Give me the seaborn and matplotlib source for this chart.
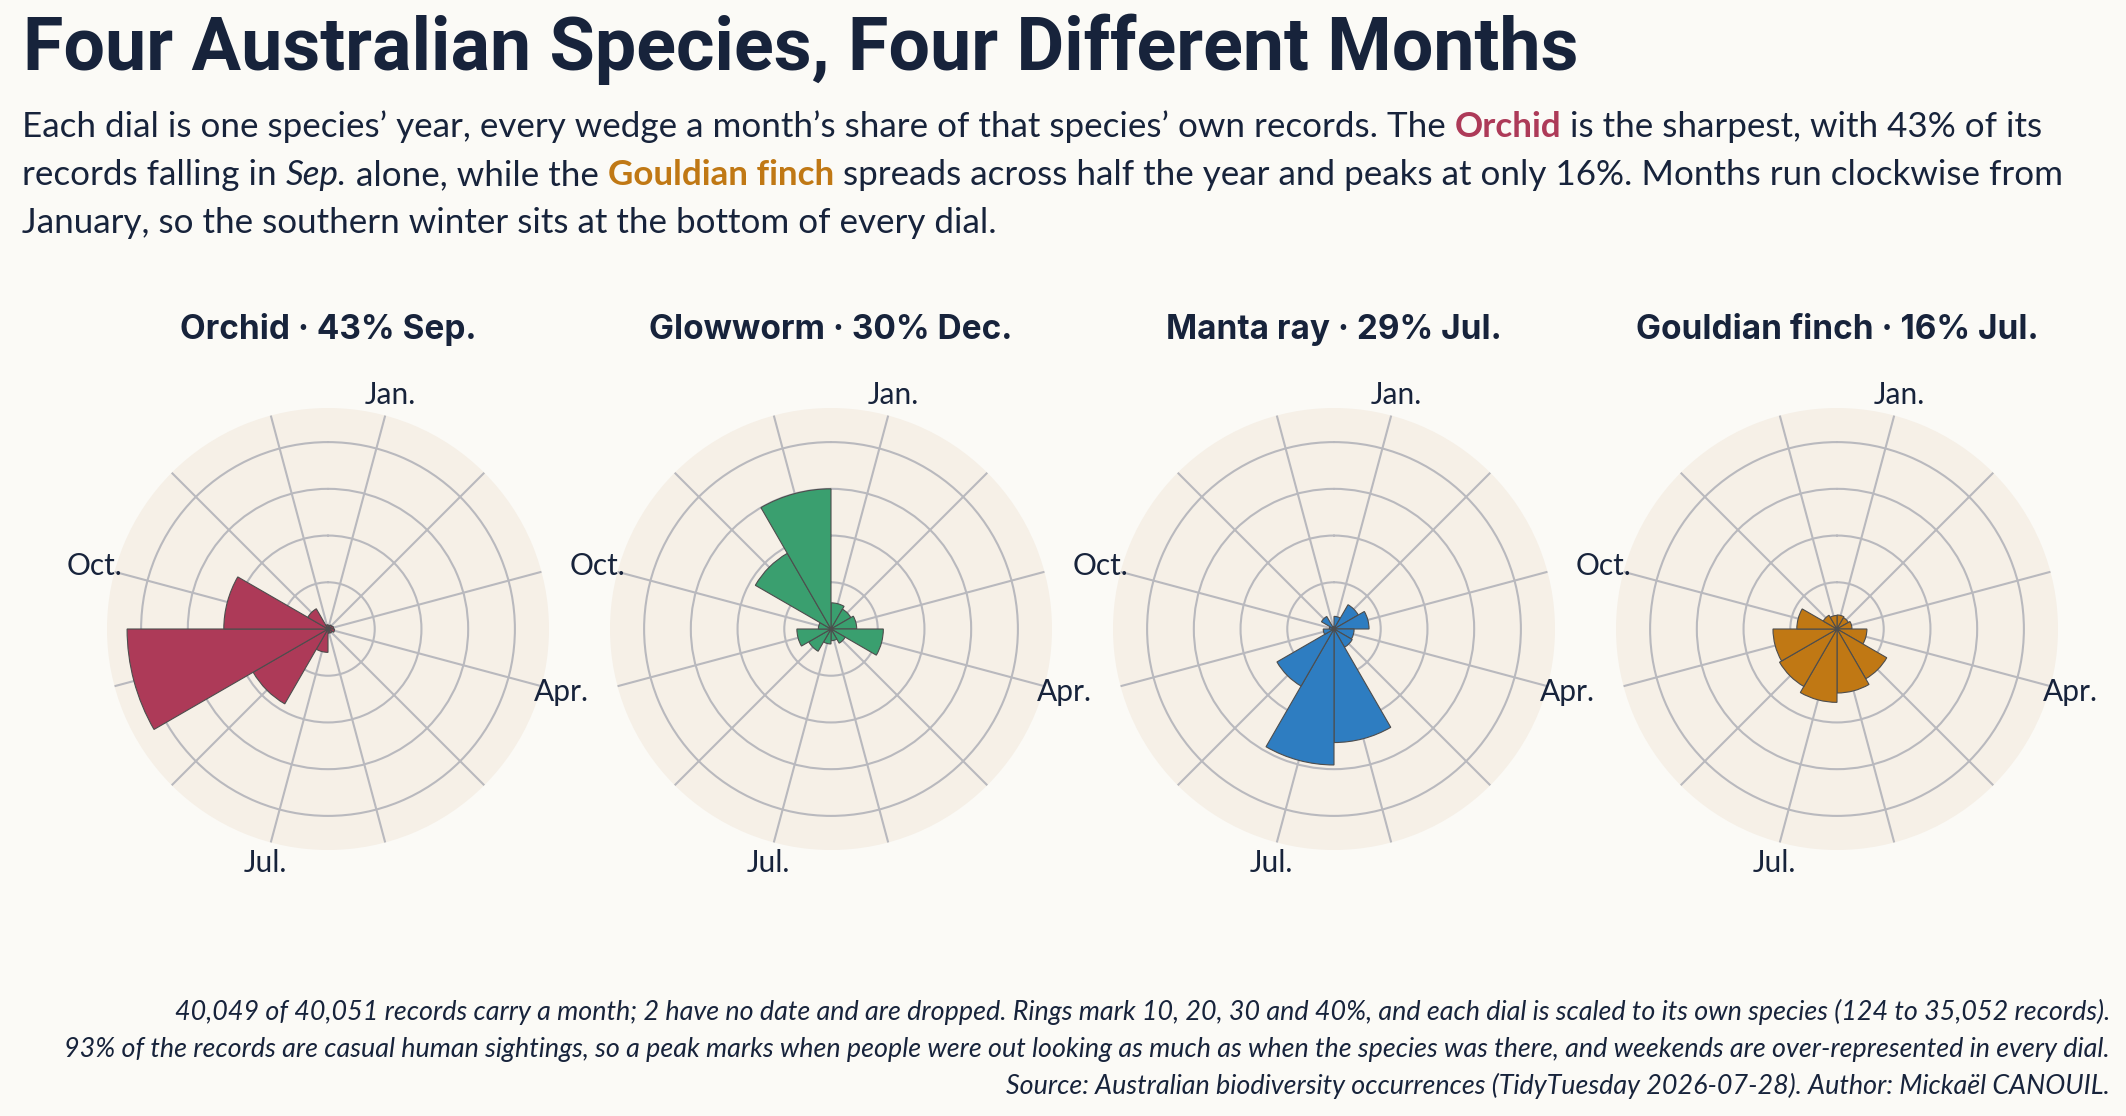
import numpy as np
import pandas as pd
import matplotlib
matplotlib.use("Agg")
import matplotlib.pyplot as plt
import seaborn as sns

# monthly share of each species' own records (%)
months = ["Jan.", "Feb.", "Mar.", "Apr.", "May", "Jun.",
          "Jul.", "Aug.", "Sep.", "Oct.", "Nov.", "Dec."]
species = ["Orchid", "Glowworm", "Manta ray", "Gouldian finch"]
orchid = [0.8, 1.0, 1.2, 1.4, 1.0, 0.9, 5.0, 18.5, 43.0, 22.3, 5.0, 0.9]
glowworm = [5.6, 4.9, 5.5, 11.2, 3.5, 2.5, 3.2, 5.5, 7.3, 2.7, 18.7, 30.0]
manta_ray = [2.7, 6.0, 7.5, 4.3, 4.5, 24.3, 29.1, 14.1, 2.3, 1.0, 3.1, 0.5]
gouldian_finch = [3.0, 2.8, 3.2, 6.4, 12.3, 13.7, 15.7, 14.2, 13.7, 8.6, 3.4, 2.9]
peak_pct = [43, 30, 29, 16]
peak_month = ["Sep.", "Dec.", "Jul.", "Jul."]
shown_months = ["Jan.", "Apr.", "Jul.", "Oct."]
rings = [10, 20, 30, 40]

df = pd.DataFrame({"month": months * 4,
                   "species": np.repeat(species, 12),
                   "share": orchid + glowworm + manta_ray + gouldian_finch})

palette = dict(zip(species, ["#AD3A58", "#3A9F6F", "#2E7DC1", "#C07814"]))
ink = "#17233B"
paper = "#FBFAF6"
dial_bg = "#F6F0E7"

sns.set_theme(style="white", rc={"figure.facecolor": paper, "savefig.facecolor": paper})
plt.rcParams["font.family"] = ["Lato", "DejaVu Sans"]

W, H = 2126, 1116
fig = plt.figure(figsize=(W / 100, H / 100), dpi=100)

# title
fig.text(23 / W, 1 - 70 / H, "Four Australian Species, Four Different Months",
         family=["Roboto", "DejaVu Sans"], fontweight="bold", fontsize=53,
         color=ink, ha="left", va="baseline")

renderer = fig.canvas.get_renderer()


def seg_width(txt, **kw):
    t = fig.text(0, 0, txt + "|", **kw)
    w1 = t.get_window_extent(renderer).width
    t.remove()
    t = fig.text(0, 0, "|", **kw)
    w2 = t.get_window_extent(renderer).width
    t.remove()
    return w1 - w2


sub_size = 25.2
base = dict(fontsize=sub_size, color=ink, family=["Lato", "DejaVu Sans"])
sub_lines = [
    [("Each dial is one species’ year, every wedge a month’s share of that species’ own records. The ", {}),
     ("Orchid", dict(fontweight="bold", color=palette["Orchid"])),
     (" is the sharpest, with 43% of its", {})],
    [("records falling in ", {}),
     ("Sep.", dict(fontstyle="italic")),
     (" alone, while the ", {}),
     ("Gouldian finch", dict(fontweight="bold", color=palette["Gouldian finch"])),
     (" spreads across half the year and peaks at only 16%. Months run clockwise from", {})],
    [("January, so the southern winter sits at the bottom of every dial.", {})],
]
for i, parts in enumerate(sub_lines):
    x = 22
    y = 1 - (137 + 48 * i) / H
    for txt, extra in parts:
        kw = {**base, **extra}
        fig.text(x / W, y, txt, ha="left", va="baseline", **kw)
        x += seg_width(txt, **kw)

# dials
radius = 221
centers = [328, 831, 1334, 1837]
cy = 629
theta = np.deg2rad(np.arange(12) * 30)
width = 2 * np.pi / 12
rmax = max(peak_pct) * 1.1

for k, name in enumerate(species):
    cx = centers[k]
    ax = fig.add_axes([(cx - radius) / W, 1 - (cy + radius) / H,
                       2 * radius / W, 2 * radius / H], projection="polar")
    ax.set_facecolor(dial_bg)
    ax.set_theta_zero_location("N")
    ax.set_theta_direction(-1)
    sub = df[df["species"] == name]
    ax.bar(theta, sub["share"].values, width=width, align="edge",
           color=palette[name], edgecolor="#4d4d4d", linewidth=0.8, zorder=3)
    ax.set_ylim(0, rmax)
    ax.set_yticks(rings)
    ax.set_yticklabels([])
    ax.set_xticks(theta + width / 2)
    ax.set_xticklabels([m if m in shown_months else "" for m in months])
    ax.tick_params(axis="x", pad=2, labelsize=21.5, colors=ink)
    ax.grid(True, color="#B9B9BE", linewidth=1.5, zorder=0)
    ax.set_axisbelow(True)
    ax.spines["polar"].set_visible(False)
    fig.text(cx / W, 1 - 339 / H, f"{name} · {peak_pct[k]}% {peak_month[k]}",
             family=["Inter", "DejaVu Sans"], fontweight="bold", fontsize=24,
             color=ink, ha="center", va="baseline")

# caption
caption = [
    "40,049 of 40,051 records carry a month; 2 have no date and are dropped. Rings mark 10, 20, 30 and 40%, and each dial is scaled to its own species (124 to 35,052 records).",
    "93% of the records are casual human sightings, so a peak marks when people were out looking as much as when the species was there, and weekends are over-represented in every dial.",
    "Source: Australian biodiversity occurrences (TidyTuesday 2026-07-28). Author: Mickaël CANOUIL.",
]
for i, line in enumerate(caption):
    fig.text(2110 / W, 1 - (1020 + 37 * i) / H, line, ha="right", va="baseline",
             fontsize=19.4, fontstyle="italic", color=ink,
             family=["Lato", "DejaVu Sans"])

fig.savefig("out.png", dpi=100, facecolor=paper)
